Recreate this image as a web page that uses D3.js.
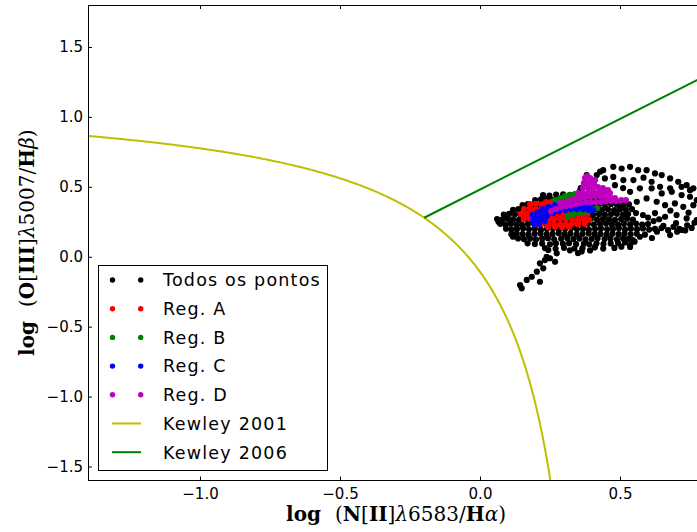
<!DOCTYPE html>
<html>
<head>
<meta charset="utf-8">
<script src="https://cdn.jsdelivr.net/npm/d3@7"></script>
<style>
  html, body { margin: 0; padding: 0; background: #fff; }
  svg { display: block; }
  .tick text { font-family: "DejaVu Sans", sans-serif; font-size: 15px; fill: #000; }
  .tick line { stroke: #000; stroke-width: 1; }
  .legend text { font-family: "DejaVu Sans", sans-serif; font-size: 17.5px; letter-spacing: 1.2px; fill: #000; }
  .axlabel { font-family: "DejaVu Serif", serif; font-size: 20px; fill: #000; }
</style>
</head>
<body>
<svg id="chart" width="697" height="532"></svg>
<script>
// ---- axis setup -------------------------------------------------------
const xDomain = [-1.4, 0.8];
const yDomain = [-1.6, 1.8];
const xTickValues = [-1.0, -0.5, 0.0, 0.5];
const yTickValues = [-1.5, -1.0, -0.5, 0.0, 0.5, 1.0, 1.5];

// ---- demarcation lines: Kewley 2001 curve y = a/(x - b) + c, Kewley 2006 line y = m x + q
const kewley2001Coef = [0.61, 0.47, 1.19];
const kewley2006Coef = [1.01, 0.48];

// ---- all spaxels: [log NII/Ha, log OIII/Hb]
const todosPontos = [
  [0.225,0.441],[0.248,0.437],[0.272,0.444],[0.297,0.446],[0.321,0.443],[0.344,0.438],
  [0.197,0.405],[0.218,0.41],[0.239,0.412],[0.261,0.406],[0.282,0.409],[0.303,0.411],[0.325,0.405],[0.346,0.408],[0.368,0.41],[0.389,0.404],[0.411,0.409],[0.432,0.406],
  [0.152,0.37],[0.171,0.376],[0.192,0.373],[0.212,0.369],[0.233,0.375],[0.255,0.372],[0.276,0.377],[0.296,0.371],[0.318,0.374],[0.339,0.369],[0.361,0.376],[0.382,0.372],[0.404,0.37],[0.425,0.375],[0.446,0.371],[0.468,0.377],[0.489,0.372],[0.511,0.369],[0.532,0.374],
  [0.118,0.336],[0.137,0.341],[0.158,0.338],[0.179,0.334],[0.2,0.34],[0.221,0.337],[0.243,0.342],[0.264,0.335],[0.286,0.339],[0.307,0.336],[0.329,0.341],[0.35,0.337],[0.371,0.333],[0.393,0.339],[0.414,0.342],[0.436,0.336],[0.457,0.339],[0.479,0.334],[0.5,0.34],[0.521,0.337],[0.543,0.341],
  [0.085,0.301],[0.104,0.306],[0.125,0.303],[0.146,0.299],[0.168,0.305],[0.189,0.302],[0.211,0.307],[0.232,0.3],[0.254,0.304],[0.275,0.301],[0.296,0.306],[0.318,0.303],[0.339,0.298],[0.361,0.304],[0.382,0.307],[0.404,0.301],[0.425,0.305],[0.446,0.299],[0.468,0.303],[0.489,0.307],[0.511,0.301],[0.529,0.305],
  [0.061,0.27],[0.079,0.265],[0.098,0.271],[0.118,0.267],[0.139,0.264],[0.161,0.27],[0.182,0.266],[0.204,0.272],[0.225,0.268],[0.246,0.263],[0.268,0.269],[0.289,0.272],[0.311,0.266],[0.332,0.27],[0.354,0.264],[0.375,0.268],[0.396,0.272],[0.418,0.265],[0.439,0.27],[0.461,0.267],[0.482,0.263],[0.504,0.269],[0.525,0.272],[0.546,0.266],
  [0.066,0.25],[0.072,0.235],[0.09,0.23],[0.109,0.236],[0.129,0.232],[0.15,0.228],[0.171,0.234],[0.193,0.237],[0.214,0.231],[0.236,0.235],[0.257,0.229],[0.279,0.233],[0.3,0.237],[0.321,0.232],[0.343,0.228],[0.364,0.234],[0.386,0.236],[0.407,0.23],[0.429,0.234],[0.45,0.237],[0.471,0.231],[0.493,0.229],[0.514,0.235],[0.536,0.232],[0.557,0.237],[0.579,0.23],[0.6,0.234],
  [0.093,0.2],[0.112,0.195],[0.132,0.199],[0.154,0.202],[0.175,0.196],[0.196,0.2],[0.218,0.193],[0.239,0.198],[0.261,0.201],[0.282,0.195],[0.304,0.199],[0.325,0.203],[0.346,0.196],[0.368,0.2],[0.389,0.194],[0.411,0.198],[0.432,0.202],[0.454,0.196],[0.475,0.199],[0.496,0.203],[0.518,0.195],[0.539,0.2],[0.561,0.197],[0.582,0.202],[0.604,0.194],[0.625,0.199],
  [0.112,0.161],[0.131,0.166],[0.152,0.162],[0.173,0.158],[0.195,0.164],[0.216,0.167],[0.238,0.16],[0.259,0.163],[0.281,0.168],[0.302,0.161],[0.323,0.165],[0.345,0.159],[0.366,0.164],[0.388,0.167],[0.409,0.161],[0.43,0.163],[0.452,0.158],[0.473,0.165],[0.495,0.161],[0.516,0.166],[0.538,0.16],[0.56,0.164],[0.589,0.158],
  [0.118,0.143],[0.136,0.131],[0.157,0.126],[0.179,0.13],[0.2,0.124],[0.222,0.129],[0.243,0.132],[0.265,0.125],[0.29,0.129],[0.312,0.133],[0.334,0.126],[0.355,0.13],[0.377,0.124],[0.399,0.128],[0.42,0.132],[0.445,0.126],[0.466,0.13],[0.489,0.125],[0.511,0.131],[0.53,0.127],
  [0.17,0.096],[0.196,0.091],[0.222,0.094],[0.25,0.089],[0.271,0.095],[0.296,0.092],[0.318,0.097],[0.343,0.09],[0.371,0.094],[0.39,0.089],[0.416,0.096],[0.441,0.091],[0.467,0.095],[0.493,0.098],[0.518,0.102],[0.552,0.108],
  [0.232,0.062],[0.27,0.057],[0.3,0.064],[0.337,0.059],[0.366,0.061],[0.409,0.066],[0.44,0.058],[0.48,0.063],[0.536,0.07],[0.505,0.072],
  [0.244,0.048],[0.274,0.024],[0.321,0.046],[0.35,0.026],[0.363,0.038],[0.393,0.045],
  [0.238,0.0],[0.232,-0.024],[0.25,-0.011],[0.268,-0.036],[0.214,-0.047],[0.226,-0.083],[0.203,-0.107],[0.185,-0.143],[0.167,-0.166],[0.143,-0.202],[0.149,-0.226],[0.214,-0.179],
  [0.44,0.619],[0.476,0.643],[0.506,0.631],[0.536,0.643],[0.565,0.619],[0.595,0.619],[0.625,0.596],[0.649,0.584],[0.679,0.56],[0.708,0.536],[0.738,0.512],[0.762,0.489],[0.429,0.608],
  [0.417,0.584],[0.446,0.56],[0.476,0.571],[0.512,0.548],[0.548,0.548],[0.584,0.565],[0.613,0.536],[0.643,0.5],[0.679,0.489],[0.72,0.5],[0.75,0.476],
  [0.536,0.464],[0.571,0.489],[0.613,0.489],[0.649,0.453],[0.685,0.464],[0.72,0.441],[0.75,0.429],[0.774,0.405],[0.482,0.512],[0.511,0.491],
  [0.56,0.393],[0.595,0.417],[0.631,0.393],[0.661,0.369],[0.696,0.381],[0.726,0.357],[0.762,0.369],
  [0.557,0.312],[0.582,0.298],[0.625,0.312],[0.661,0.286],[0.702,0.298],[0.738,0.274],[0.774,0.262],
  [0.68,0.33],[0.745,0.315],[0.655,0.22],[0.70,0.24],[0.74,0.225],
  [0.648,0.205],[0.672,0.19],[0.691,0.214],[0.712,0.2],[0.733,0.188],[0.756,0.206],[0.766,0.243],[0.62,0.255],[0.6,0.28],[0.64,0.268],
  [0.679,0.155],[0.704,0.179],[0.721,0.191],[0.632,0.179],[0.614,0.134],[0.571,0.143],[0.546,0.119],[0.536,0.084],[0.411,0.071],
  [0.381,0.584],[0.399,0.548],[0.375,0.524],[0.36,0.49],[0.357,0.47]
];

// ---- region A
const regA = [
  [0.236,0.39],[0.257,0.392],
  [0.179,0.376],[0.2,0.378],[0.221,0.375],[0.243,0.377],[0.264,0.374],[0.286,0.376],[0.307,0.373],[0.329,0.375],
  [0.157,0.341],[0.179,0.343],[0.2,0.34],[0.221,0.342],[0.243,0.339],[0.264,0.341],[0.286,0.343],[0.307,0.34],[0.329,0.342],[0.35,0.339],[0.371,0.341],
  [0.146,0.305],[0.168,0.307],[0.189,0.304],[0.211,0.306],[0.232,0.303],[0.254,0.305],[0.275,0.307],[0.296,0.304],[0.318,0.306],[0.339,0.303],[0.361,0.305],[0.382,0.302],
  [0.157,0.269],[0.179,0.271],[0.2,0.268],[0.221,0.27],[0.243,0.267],[0.264,0.269],[0.286,0.271],[0.307,0.268],[0.329,0.27],[0.35,0.267],[0.371,0.269],[0.389,0.266],
  [0.2,0.234],[0.221,0.236],[0.243,0.233],[0.264,0.235],[0.286,0.232],[0.307,0.234],[0.329,0.236],[0.35,0.233],[0.375,0.236],
  [0.243,0.212],[0.268,0.214],[0.293,0.211],[0.318,0.213],
  [0.35,0.248],[0.375,0.255]
];

// ---- region B
const regB = [
  [0.268,0.405],[0.286,0.419],[0.304,0.434],[0.321,0.441],[0.339,0.448],[0.357,0.448],[0.375,0.441],
  [0.279,0.391],[0.304,0.405],[0.329,0.412],[0.357,0.419],
  [0.314,0.291],[0.332,0.298],[0.35,0.312],[0.368,0.319],[0.386,0.326],[0.404,0.341],[0.418,0.348],
  [0.329,0.312],[0.357,0.326],[0.393,0.348]
];

// ---- region C
const regC = [
  [0.189,0.298],[0.207,0.319],[0.225,0.341],[0.246,0.355],[0.268,0.369],[0.289,0.376],[0.311,0.384],[0.332,0.384],[0.354,0.384],[0.375,0.376],[0.393,0.369],
  [0.204,0.276],[0.218,0.298],[0.236,0.319],[0.257,0.334],[0.279,0.348],[0.3,0.355],[0.321,0.362],[0.343,0.362],[0.364,0.362],[0.386,0.355],
  [0.2,0.255],[0.218,0.269],[0.239,0.291],[0.261,0.312],[0.282,0.326],[0.304,0.334],[0.325,0.341],[0.346,0.341],[0.368,0.341],[0.389,0.334],[0.404,0.334],
  [0.189,0.262],[0.193,0.234],[0.211,0.234],[0.232,0.255]
];

// ---- region D
const regD = [
  [0.254,0.326],[0.271,0.341],[0.289,0.355],[0.307,0.362],[0.325,0.369],[0.343,0.376],[0.361,0.384],[0.379,0.391],[0.396,0.391],[0.414,0.391],[0.432,0.391],[0.45,0.398],[0.468,0.398],[0.486,0.398],[0.504,0.405],[0.521,0.405],
  [0.286,0.384],[0.304,0.391],[0.321,0.405],[0.339,0.412],[0.357,0.419],[0.375,0.426],[0.393,0.434],[0.411,0.434],[0.429,0.434],[0.446,0.426],[0.464,0.426],[0.482,0.419],
  [0.368,0.455],[0.386,0.455],[0.404,0.462],[0.368,0.491],[0.386,0.491],[0.404,0.491],[0.371,0.526],[0.389,0.526],[0.407,0.519],[0.375,0.562],[0.393,0.562],[0.411,0.548],
  [0.421,0.498],[0.439,0.491],[0.457,0.476],[0.425,0.462],[0.443,0.455],[0.35,0.455],[0.382,0.576],[0.464,0.455]
];

const legendLabels = ["Todos os pontos", "Reg. A", "Reg. B", "Reg. C", "Reg. D", "Kewley 2001", "Kewley 2006"];
const seriesColors = ["#000000", "#ff0000", "#008000", "#0000ff", "#bf00bf", "#bfbf00", "#008000"];

// ---- drawing -----------------------------------------------------------
const svg = d3.select("#chart");
const pL = 88, pT = 5, pR = 704, pB = 480.5;

const x = d3.scaleLinear().domain(xDomain).range([pL, pR]);
const y = d3.scaleLinear().domain(yDomain).range([pB, pT]);

svg.append("defs").append("clipPath").attr("id", "plotClip")
  .append("rect").attr("x", pL).attr("y", pT)
  .attr("width", pR - pL).attr("height", pB - pT);

const plot = svg.append("g").attr("clip-path", "url(#plotClip)");
const line = d3.line().x(d => x(d[0])).y(d => y(d[1]));

// Kewley 2001 maximum starburst curve
const [ka, kb, kc] = kewley2001Coef;
const k01x = d3.range(xDomain[0] - 0.05, 0.3, 0.004);
plot.append("path")
  .datum(k01x.map(v => [v, ka / (v - kb) + kc]))
  .attr("d", line).attr("fill", "none")
  .attr("stroke", seriesColors[5]).attr("stroke-width", 2);

// Kewley 2006 line, starting where it meets the 2001 curve
const [km, kq] = kewley2006Coef;
const qB = kc - kq + km * kb, qC = ka - (kc - kq) * kb;
const xStart = (qB - Math.sqrt(qB * qB + 4 * km * qC)) / (2 * km);
plot.append("path")
  .datum([xStart, xDomain[1] + 0.1].map(v => [v, km * v + kq]))
  .attr("d", line).attr("fill", "none")
  .attr("stroke", seriesColors[6]).attr("stroke-width", 2);

// scatter groups, drawn in legend order
const groups = [todosPontos, regA, regB, regC, regD];
groups.forEach((pts, i) => {
  plot.append("g").selectAll("circle").data(pts).join("circle")
    .attr("cx", d => x(d[0])).attr("cy", d => y(d[1]))
    .attr("r", 3.1).attr("fill", seriesColors[i]);
});

// axes: classic inward ticks
const fmt = d => d === 0 ? "0.0" : d3.format(".1f")(d).replace("-", "\u2212");
svg.append("g").attr("transform", `translate(0,${pB})`)
  .call(d3.axisBottom(x).tickValues(xTickValues).tickSize(-4).tickPadding(8).tickFormat(fmt))
  .call(g => g.select(".domain").remove());
svg.append("g").attr("transform", `translate(0,${pT})`)
  .call(d3.axisTop(x).tickValues(xTickValues).tickSize(-4).tickFormat(""))
  .call(g => g.select(".domain").remove());
svg.append("g").attr("transform", `translate(${pL},0)`)
  .call(d3.axisLeft(y).tickValues(yTickValues).tickSize(-4).tickPadding(5).tickFormat(fmt))
  .call(g => g.select(".domain").remove());

// frame
svg.append("rect").attr("x", pL + 0.5).attr("y", pT + 0.5)
  .attr("width", pR - pL).attr("height", pB - pT - 0.5)
  .attr("fill", "none").attr("stroke", "#000").attr("stroke-width", 1);

// legend
const lg = svg.append("g").attr("class", "legend");
lg.append("rect").attr("x", 98.5).attr("y", 265.5).attr("width", 229).attr("height", 205)
  .attr("fill", "#fff").attr("stroke", "#000").attr("stroke-width", 1);
legendLabels.forEach((lab, i) => {
  const cy = 280 + i * 28.7;
  if (i < 5) {
    [112.5, 140.7].forEach(cx => lg.append("circle").attr("cx", cx).attr("cy", cy)
      .attr("r", 2.7).attr("fill", seriesColors[i]));
  } else {
    lg.append("line").attr("x1", 112).attr("x2", 141).attr("y1", cy).attr("y2", cy)
      .attr("stroke", seriesColors[i]).attr("stroke-width", 2);
  }
  lg.append("text").attr("x", 163).attr("y", cy + 6.3).text(lab);
});

// axis labels (math style)
function mathLabel(g, parts) {
  const t = g.append("text").attr("class", "axlabel").attr("text-anchor", "middle");
  parts.forEach(([s, style, dx]) => {
    const ts = t.append("tspan").text(s);
    if (style === "b") ts.attr("font-weight", "bold");
    if (style === "i") ts.attr("font-style", "italic");
    if (dx) ts.attr("dx", dx);
  });
  return t;
}
mathLabel(svg.append("g").attr("transform", "translate(396,521)"), [
  ["log", "b"], ["(", "", 14], ["N", "b"], ["["], ["II", "b"], ["]"], ["\u03bb", "i"], ["6583/"], ["H", "b"], ["\u03b1", "i"], [")"]
]);
mathLabel(svg.append("g").attr("transform", "translate(34,242.7) rotate(-90)"), [
  ["log", "b"], ["(", "", 14], ["O", "b"], ["["], ["III", "b"], ["]"], ["\u03bb", "i"], ["5007/"], ["H", "b"], ["\u03b2", "i"], [")"]
]);
</script>
</body>
</html>
